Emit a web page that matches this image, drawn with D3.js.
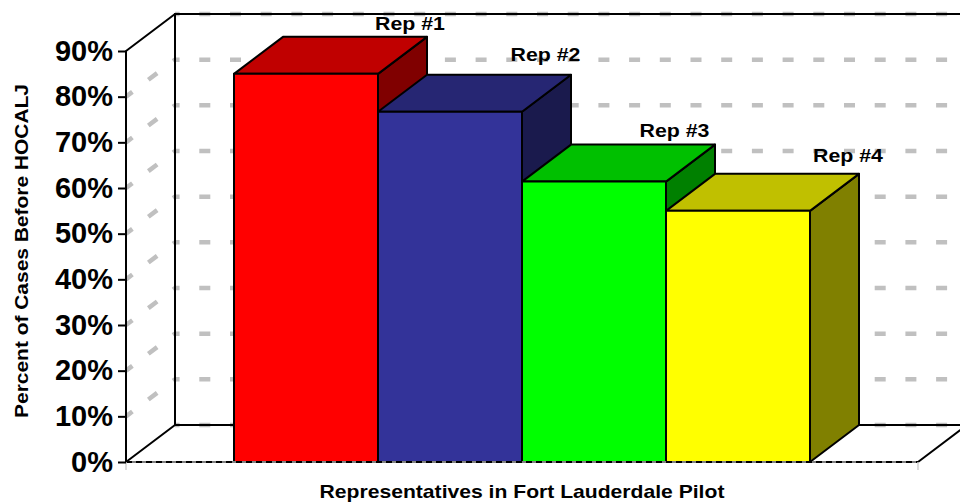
<!DOCTYPE html>
<html><head><meta charset="utf-8">
<script src="https://cdn.jsdelivr.net/npm/d3@7"></script>
<style>body{margin:0;background:#fff}svg{display:block}text{font-family:"Liberation Sans",Arial,sans-serif;font-weight:bold;fill:#000}</style>
</head><body>
<svg id="chart" width="960" height="503"></svg>
<script>
const categories = ["Rep #1", "Rep #2", "Rep #3", "Rep #4"];
const values = [0.85, 0.767, 0.614, 0.55];
const yTicks = [0, 0.1, 0.2, 0.3, 0.4, 0.5, 0.6, 0.7, 0.8, 0.9];
const yTickLabels = ["0%", "10%", "20%", "30%", "40%", "50%", "60%", "70%", "80%", "90%"];
const yTitle = "Percent of Cases Before HOCALJ";
const xTitle = "Representatives in Fort Lauderdale Pilot";

// styles / layout (not data)
const frontColors = ["#FF0000", "#333399", "#00FF00", "#FFFF00"];
const topColors   = ["#C00000", "#262673", "#00C000", "#C0C000"];
const sideColors  = ["#800000", "#1A1A4D", "#008000", "#808000"];
const labelNudge = [[55, -6.6], [46.5, -13.7], [31.5, -8], [61, -12]];

const svg = d3.select("#chart");
svg.append("rect").attr("width", 960).attr("height", 503).attr("fill", "#fff");

const X0 = 126, X1 = 918, DX = 49, DY = -37;
const x = d3.scaleBand().domain(categories).range([X0, X1]).paddingInner(0).paddingOuter(0.75);
const y = d3.scaleLinear().domain([0, 0.9]).range([462, 51]);
const yMax = 0.9;

const g = svg.append("g");

// left wall gridlines (diagonal)
g.selectAll(".lgrid").data(yTicks.filter(t => t > 0 && t < yMax)).join("line")
  .attr("x1", X0).attr("y1", d => y(d)).attr("x2", X0 + DX).attr("y2", d => y(d) + DY)
  .attr("stroke", "#C0C0C0").attr("stroke-width", 4.5)
  .attr("stroke-dasharray", "11,20").attr("stroke-dashoffset", 3);

// back wall gridlines
g.selectAll(".bgrid").data(yTicks).join("line")
  .attr("x1", X0 + DX).attr("y1", d => y(d) + DY).attr("x2", X1 + DX).attr("y2", d => y(d) + DY)
  .attr("stroke", "#C0C0C0").attr("stroke-width", 4.5)
  .attr("stroke-dasharray", "11,19.7").attr("stroke-dashoffset", 6.4);

// frame
const frame = [
  [X0, y(yMax), X0 + DX, y(yMax) + DY],
  [X0 + DX, y(yMax) + DY, X1 + DX, y(yMax) + DY],
  [X0 + DX, y(yMax) + DY, X0 + DX, y(0) + DY],
  [X0, y(0), X0 + DX, y(0) + DY],
  [X0 + DX, y(0) + DY, X1 + DX, y(0) + DY],
  [X1, y(0), X1 + DX, y(0) + DY]
];
g.selectAll(".frame").data(frame).join("line")
  .attr("x1", d => d[0]).attr("y1", d => d[1]).attr("x2", d => d[2]).attr("y2", d => d[3])
  .attr("stroke", "#000").attr("stroke-width", 2).attr("stroke-linecap", "round");

// bars
const bw = x.bandwidth();
const bars = g.selectAll(".bar").data(categories.map((c, i) => ({c, v: values[i], i}))).join("g");
bars.append("polygon").attr("points", d => {
  const xr = x(d.c) + bw, yt = y(d.v), yb = y(0);
  return [[xr, yt], [xr + DX, yt + DY], [xr + DX, yb + DY], [xr, yb]].join(" ");
}).attr("fill", d => sideColors[d.i]);
bars.append("polygon").attr("points", d => {
  const xl = x(d.c), xr = xl + bw, yt = y(d.v);
  return [[xl, yt], [xl + DX, yt + DY], [xr + DX, yt + DY], [xr, yt]].join(" ");
}).attr("fill", d => topColors[d.i]);
bars.append("rect").attr("x", d => x(d.c)).attr("y", d => y(d.v))
  .attr("width", bw).attr("height", d => y(0) - y(d.v)).attr("fill", d => frontColors[d.i]);
bars.selectAll("polygon,rect").attr("stroke", "#000").attr("stroke-width", 2).attr("stroke-linejoin", "round");

// front floor line
g.append("line").attr("x1", X0).attr("x2", X1).attr("y1", y(0)).attr("y2", y(0))
  .attr("stroke", "#808080").attr("stroke-width", 2);
g.append("line").attr("x1", X0).attr("x2", X1).attr("y1", y(0)).attr("y2", y(0))
  .attr("stroke", "#000").attr("stroke-width", 2).attr("stroke-dasharray", "6,4");
// category axis end ticks
g.selectAll(".ctick").data([X0, X1]).join("line")
  .attr("x1", d => d).attr("x2", d => d).attr("y1", y(0)).attr("y2", y(0) + 8)
  .attr("stroke", "#D0D0D0").attr("stroke-width", 1.5);

// y axis
const yAxis = d3.axisLeft(y).tickValues(yTicks).tickFormat((d, i) => yTickLabels[i]).tickSize(8).tickPadding(5);
const ya = svg.append("g").attr("transform", `translate(${X0},0)`).call(yAxis);
ya.select(".domain").attr("stroke", "#000").attr("stroke-width", 2).attr("d", `M0,${y(yMax)}V${y(0)}`);
ya.selectAll(".tick line").attr("stroke", "#000").attr("stroke-width", 2);
ya.selectAll(".tick text").attr("font-size", 29).attr("font-family", '"Liberation Sans",Arial,sans-serif')
  .attr("font-weight", "bold").attr("fill", "#000");

// helper for stretched text
function stretched(parent, txt, cx, cy, size, sx, rot) {
  const gg = parent.append("g").attr("transform", `translate(${cx},${cy}) rotate(${rot || 0}) scale(${sx},1)`);
  gg.append("text").attr("text-anchor", "middle").attr("font-size", size).text(txt);
  return gg;
}

// bar labels
categories.forEach((c, i) => {
  const cx = x(c) + bw / 2 + DX + labelNudge[i][0];
  const by = y(values[i]) + DY + labelNudge[i][1];
  stretched(svg, c, cx, by, 18.7, 1.14);
});

// titles
stretched(svg, xTitle, 522, 498, 18.7, 1.13);
stretched(svg, yTitle, 28.3, 251, 18.7, 1.12, -90);
</script>
</body></html>
